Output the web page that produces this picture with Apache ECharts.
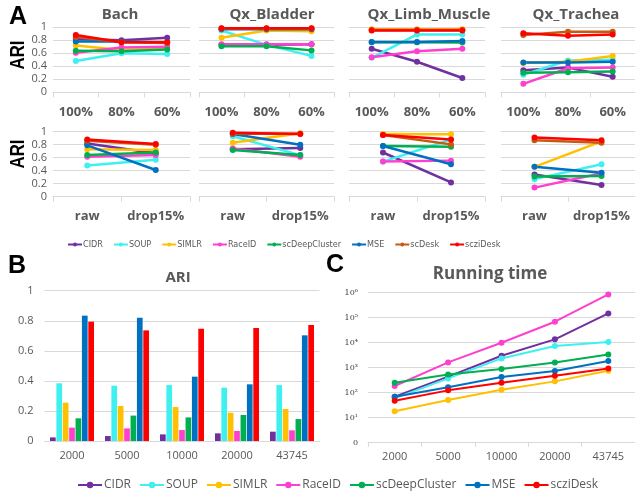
<!DOCTYPE html>
<html>
<head>
<meta charset="utf-8">
<script src="https://cdn.jsdelivr.net/npm/echarts@6/dist/echarts.min.js"></script>
<style>
  html, body { margin: 0; padding: 0; background: #fff; }
  #chart { width: 635px; height: 493px; }
</style>
</head>
<body>
<div id="chart"></div>
<script>
// Methods, in drawing order (last one is painted on top)
const methods = ['CIDR', 'SOUP', 'SIMLR', 'RaceID', 'scDeepCluster', 'MSE', 'scDesk', 'scziDesk'];
const methodsBC = ['CIDR', 'SOUP', 'SIMLR', 'RaceID', 'scDeepCluster', 'MSE', 'scziDesk'];
const methodColors = ['#7030A0', '#3EF0F0', '#FFC000', '#FF3FCF', '#00B050', '#0070C0', '#C55A11', '#FF0000'];

// Panel A: datasets and the two kinds of perturbation
const datasets = ['Bach', 'Qx_Bladder', 'Qx_Limb_Muscle', 'Qx_Trachea'];
const subsampleLabels = ['100%', '80%', '60%'];
const dropoutLabels = ['raw', 'drop15%'];

// ARI after subsampling cells (rows follow `methods`)
const bachSubsample = [
  [0.82, 0.80, 0.84], [0.48, 0.60, 0.59], [0.72, 0.65, 0.67], [0.61, 0.69, 0.70],
  [0.64, 0.63, 0.66], [0.78, 0.78, 0.77], [0.85, 0.77, 0.76], [0.88, 0.77, 0.77]
];
const bladderSubsample = [
  [0.73, 0.73, 0.74], [0.95, 0.73, 0.56], [0.84, 0.95, 0.94], [0.74, 0.74, 0.74],
  [0.71, 0.71, 0.645], [0.97, 0.97, 0.97], [0.98, 0.98, 0.98], [0.985, 0.985, 0.985]
];
const limbSubsample = [
  [0.67, 0.47, 0.22], [0.53, 0.89, 0.89], [0.97, 0.97, 0.97], [0.54, 0.63, 0.67],
  [0.77, 0.77, 0.765], [0.775, 0.775, 0.79], [0.96, 0.96, 0.96], [0.95, 0.95, 0.95]
];
const tracheaSubsample = [
  [0.34, 0.38, 0.24], [0.27, 0.49, 0.50], [0.45, 0.47, 0.56], [0.13, 0.37, 0.38],
  [0.30, 0.31, 0.32], [0.46, 0.46, 0.47], [0.88, 0.93, 0.93], [0.91, 0.87, 0.89]
];

// ARI on raw data vs. 15% extra dropout
const bachDropout = [
  [0.82, 0.67], [0.48, 0.57], [0.73, 0.72], [0.615, 0.64],
  [0.64, 0.68], [0.79, 0.41], [0.86, 0.80], [0.88, 0.81]
];
const bladderDropout = [
  [0.73, 0.75], [0.93, 0.64], [0.83, 0.975], [0.74, 0.615],
  [0.72, 0.64], [0.965, 0.80], [0.97, 0.97], [0.985, 0.965]
];
const limbDropout = [
  [0.68, 0.22], [0.54, 0.88], [0.965, 0.96], [0.54, 0.555],
  [0.78, 0.77], [0.78, 0.50], [0.95, 0.805], [0.95, 0.88]
];
const tracheaDropout = [
  [0.34, 0.18], [0.27, 0.50], [0.46, 0.85], [0.14, 0.36],
  [0.31, 0.32], [0.46, 0.37], [0.87, 0.83], [0.91, 0.87]
];

// Panels B and C: number of cells
const cellCounts = ['2000', '5000', '10000', '20000', '43745'];

// Panel B: ARI by number of cells (rows follow `methodsBC`)
const ariByCells = [
  [0.024, 0.033, 0.044, 0.051, 0.062],
  [0.384, 0.368, 0.372, 0.355, 0.372],
  [0.255, 0.233, 0.226, 0.188, 0.213],
  [0.089, 0.084, 0.073, 0.067, 0.071],
  [0.151, 0.169, 0.157, 0.173, 0.146],
  [0.834, 0.820, 0.428, 0.377, 0.703],
  [0.794, 0.736, 0.747, 0.752, 0.772]
];

// Panel C: running time (s) by number of cells (rows follow `methodsBC`)
const runTimeByCells = [
  [69, 437, 3020, 13600, 148000],
  [59, 373, 2350, 7400, 10600],
  [18, 51, 132, 284, 760],
  [185, 1630, 10000, 69000, 855000],
  [251, 540, 890, 1630, 3400],
  [69, 164, 424, 735, 1850],
  [48, 124, 251, 480, 935]
];

// ---------------------------------------------------------------------------
const gray = '#595959';
const gridColor = '#D9D9D9';
const colorOf = name => methodColors[methods.indexOf(name)];

const panelA = [
  { data: bachSubsample,    cats: subsampleLabels, row: 0, col: 0 },
  { data: bladderSubsample, cats: subsampleLabels, row: 0, col: 1 },
  { data: limbSubsample,    cats: subsampleLabels, row: 0, col: 2 },
  { data: tracheaSubsample, cats: subsampleLabels, row: 0, col: 3 },
  { data: bachDropout,      cats: dropoutLabels,   row: 1, col: 0 },
  { data: bladderDropout,   cats: dropoutLabels,   row: 1, col: 1 },
  { data: limbDropout,      cats: dropoutLabels,   row: 1, col: 2 },
  { data: tracheaDropout,   cats: dropoutLabels,   row: 1, col: 3 }
];
const colLeft = [53, 199, 349, 501];
const colWidth = [137, 135, 136, 134];
const rowTop = [27.3, 131.7];
const rowHeight = 65;

const grid = [], xAxis = [], yAxis = [], series = [];

panelA.forEach((p, i) => {
  grid.push({ left: colLeft[p.col], top: rowTop[p.row], width: colWidth[p.col], height: rowHeight });
  xAxis.push({
    type: 'category', gridIndex: i, data: p.cats, boundaryGap: true,
    axisLine: { lineStyle: { color: gridColor, width: 1 } },
    axisTick: { show: true, length: 5, lineStyle: { color: gridColor } },
    axisLabel: { interval: 0, hideOverlap: false, color: gray, fontWeight: 'bold', fontSize: 13, margin: 13, fontFamily: 'Open Sans, sans-serif' }
  });
  yAxis.push({
    type: 'value', gridIndex: i, min: 0, max: 1, interval: 0.2,
    axisLine: { show: false }, axisTick: { show: false },
    splitLine: { lineStyle: { color: gridColor, width: 1 } },
    axisLabel: { show: p.col === 0, color: gray, fontSize: 11, margin: 6, fontFamily: 'Open Sans, sans-serif' }
  });
  methods.forEach((m, k) => {
    series.push({
      name: m, type: 'line', xAxisIndex: i, yAxisIndex: i,
      data: p.data[k], color: methodColors[k],
      symbol: 'circle', symbolSize: 6, lineStyle: { width: 2.5 },
      animation: false
    });
  });
});

// Panel C (line series first so shared legend shows line icons)
const gC = grid.length;
grid.push({ left: 368, top: 292.7, width: 267, height: 150 });
xAxis.push({
  type: 'category', gridIndex: gC, data: cellCounts, boundaryGap: true,
  axisLine: { lineStyle: { color: gridColor } },
  axisTick: { show: true, length: 4, lineStyle: { color: gridColor } },
  axisLabel: { interval: 0, color: gray, fontSize: 11, margin: 9, fontFamily: 'Open Sans, sans-serif' }
});
const sup = ['\u2070', '\u00B9', '\u00B2', '\u00B3', '\u2074', '\u2075', '\u2076'];
yAxis.push({
  type: 'log', gridIndex: gC, logBase: 10, min: 1, max: 1e6,
  axisLine: { show: false }, axisTick: { show: false },
  splitLine: { lineStyle: { color: gridColor } },
  axisLabel: {
    color: '#404040', fontSize: 8, margin: 10, fontFamily: 'DejaVu Serif, serif',
    formatter: v => {
      const e = Math.round(Math.log10(v));
      return e === 0 ? '0' : '10' + sup[e];
    }
  }
});
methodsBC.forEach((m, k) => {
  series.push({
    name: m, type: 'line', xAxisIndex: gC, yAxisIndex: gC,
    data: runTimeByCells[k], color: colorOf(m),
    symbol: 'circle', symbolSize: 6, lineStyle: { width: 2 },
    animation: false
  });
});

// Panel B
const gB = grid.length;
grid.push({ left: 44.5, top: 290.7, width: 275, height: 150.3 });
xAxis.push({
  type: 'category', gridIndex: gB, data: cellCounts,
  axisLine: { lineStyle: { color: gridColor } },
  axisTick: { show: false },
  axisLabel: { interval: 0, color: gray, fontSize: 11, margin: 9, fontFamily: 'Open Sans, sans-serif' }
});
yAxis.push({
  type: 'value', gridIndex: gB, min: 0, max: 1, interval: 0.2,
  axisLine: { show: false }, axisTick: { show: false },
  splitLine: { lineStyle: { color: gridColor } },
  axisLabel: { color: gray, fontSize: 11, margin: 11, fontFamily: 'Open Sans, sans-serif' }
});
methodsBC.forEach((m, k) => {
  series.push({
    name: m, type: 'bar', xAxisIndex: gB, yAxisIndex: gB,
    data: ariByCells[k], color: colorOf(m),
    barCategoryGap: '20%', barGap: '12%',
    animation: false
  });
});

// Titles above each subplot
const titleStyle = { color: gray, fontWeight: 'bold', fontSize: 15, fontFamily: 'Open Sans, sans-serif' };
const subTitles = [
  { text: datasets[0], x: 120, y: 7 },
  { text: datasets[1], x: 272, y: 7 },
  { text: datasets[2], x: 429, y: 7 },
  { text: datasets[3], x: 576, y: 7 },
  { text: 'ARI', x: 178, y: 270 },
  { text: 'Running time', x: 490, y: 266, size: 17 }
];
const title = subTitles.map(t => ({
  text: t.text, left: t.x, top: t.y, textAlign: 'center', padding: 0,
  textStyle: Object.assign({}, titleStyle, t.size ? { fontSize: t.size } : {})
}));

const letterStyle = { fill: '#000', font: 'bold 25px Liberation Sans, Arial, sans-serif' };
const graphic = [
  { type: 'text', left: 9, top: 5, style: Object.assign({ text: 'A' }, letterStyle) },
  { type: 'text', left: 8, top: 254, style: Object.assign({ text: 'B' }, letterStyle) },
  { type: 'text', left: 326, top: 253, style: Object.assign({ text: 'C' }, letterStyle) },
  {
    type: 'text', x: 18, y: 55, rotation: Math.PI / 2, scaleX: 0.8,
    style: { text: 'ARI', fill: '#000', font: 'bold 21px Liberation Sans, Arial, sans-serif', align: 'center', verticalAlign: 'middle' }
  },
  {
    type: 'text', x: 18, y: 154, rotation: Math.PI / 2, scaleX: 0.8,
    style: { text: 'ARI', fill: '#000', font: 'bold 21px Liberation Sans, Arial, sans-serif', align: 'center', verticalAlign: 'middle' }
  }
];

const legend = [
  {
    data: methods, left: 62, top: 235, itemWidth: 14, itemHeight: 5, itemGap: 10,
    textStyle: { color: gray, fontSize: 9, fontFamily: 'Liberation Sans Narrow, DejaVu Sans Condensed, sans-serif', padding: [0, 0, 0, -4] },
    selectedMode: false
  },
  {
    data: methodsBC, left: 72, top: 474, itemWidth: 24, itemHeight: 8, itemGap: 8,
    textStyle: { color: gray, fontSize: 12, fontFamily: 'Open Sans, sans-serif', padding: [0, 0, 0, -3] },
    selectedMode: false
  }
];

const chart = echarts.init(document.getElementById('chart'), null, { renderer: 'canvas' });
chart.setOption({
  animation: false,
  backgroundColor: '#fff',
  title, grid, xAxis, yAxis, series, legend, graphic
});
</script>
</body>
</html>
